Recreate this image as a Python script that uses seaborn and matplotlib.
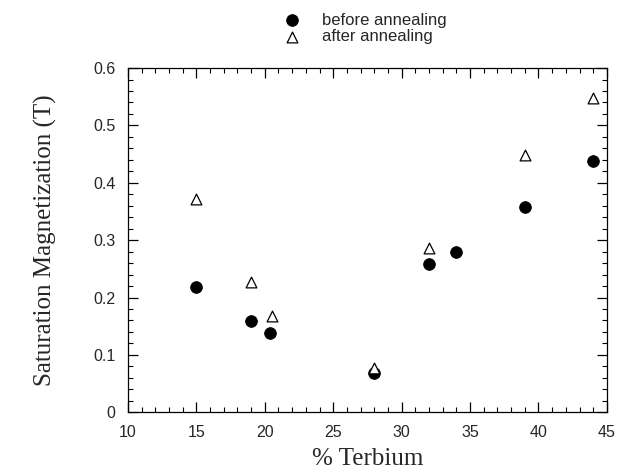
import numpy as np
import pandas as pd
import matplotlib
matplotlib.use("Agg")
import matplotlib.pyplot as plt
import seaborn as sns
from matplotlib.ticker import MultipleLocator

# data
tb_before = [15, 19, 20.4, 28, 32, 34, 39, 44]
ms_before = [0.218, 0.159, 0.138, 0.068, 0.258, 0.279, 0.358, 0.438]
tb_after = [15, 19, 20.5, 28, 32, 39, 44]
ms_after = [0.372, 0.227, 0.168, 0.077, 0.286, 0.448, 0.548]

before = pd.DataFrame({"tb": tb_before, "ms": ms_before})
after = pd.DataFrame({"tb": tb_after, "ms": ms_after})

sns.set_style("ticks")
plt.rcParams["font.family"] = ["Liberation Sans", "DejaVu Sans"]

fig = plt.figure(figsize=(6.18, 4.76), dpi=100)
ax = fig.add_axes([0.207, 0.134, 0.775, 0.723])

sns.scatterplot(data=before, x="tb", y="ms", ax=ax, marker="o", s=70,
                color="black", edgecolor="black", label="before annealing")
sns.scatterplot(data=after, x="tb", y="ms", ax=ax, marker="^", s=60,
                facecolor="white", edgecolor="black", linewidth=0.9,
                label="after annealing")

ax.set_xlim(10, 45)
ax.set_ylim(0, 0.6)
ax.xaxis.set_major_locator(MultipleLocator(5))
ax.xaxis.set_minor_locator(MultipleLocator(1))
ax.yaxis.set_major_locator(MultipleLocator(0.1))
ax.yaxis.set_minor_locator(MultipleLocator(0.02))
ax.set_yticks([0, 0.1, 0.2, 0.3, 0.4, 0.5, 0.6])
ax.set_yticklabels(["0", "0.1", "0.2", "0.3", "0.4", "0.5", "0.6"])
ax.tick_params(which="both", direction="in", top=True, right=True,
               labelsize=11.5, color="black")
ax.tick_params(which="major", length=7, width=0.9, pad=9)
ax.tick_params(which="minor", length=3.5, width=0.8)
for sp in ax.spines.values():
    sp.set_linewidth(0.9)
    sp.set_color("black")

ax.set_xlabel("% Terbium", family="Liberation Serif", fontsize=18, labelpad=6)
ax.set_ylabel("Saturation Magnetization (T)", family="Liberation Serif",
              fontsize=18, labelpad=26)

ax.get_legend().remove()
h, l = ax.get_legend_handles_labels()
fig.legend(h, l, loc="upper left", bbox_to_anchor=(0.427, 0.998), frameon=False,
           fontsize=12, handletextpad=0.8, labelspacing=0.1, borderpad=0.2)

fig.savefig("out.png", dpi=100)
